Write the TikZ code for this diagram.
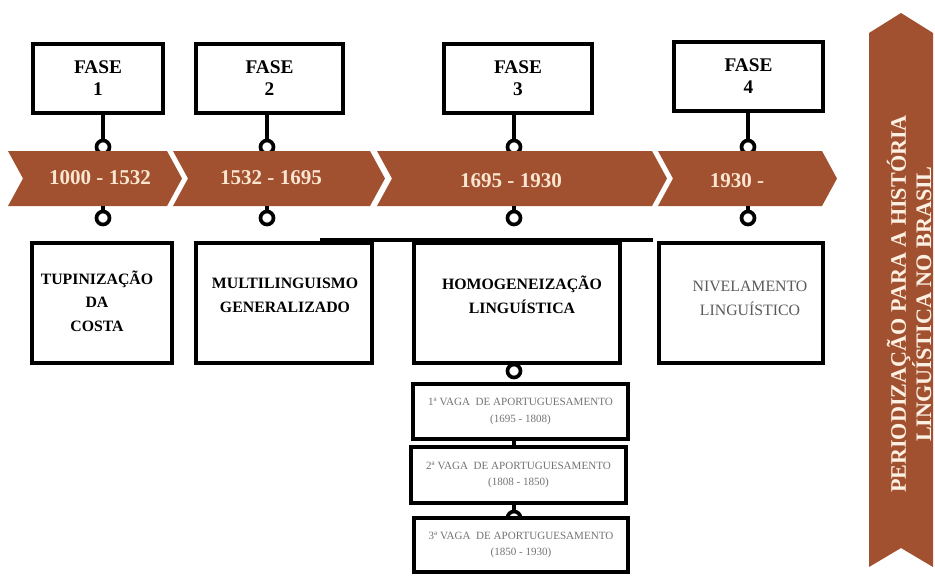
\documentclass[tikz,border=0pt]{standalone}
\usepackage{fontspec}
\setmainfont{Liberation Serif}
\usepackage{tikz}
\definecolor{bandbrown}{RGB}{161, 81, 48}
\definecolor{datecream}{RGB}{250, 230, 208}
\definecolor{txtgray}{RGB}{90, 90, 90}
\usetikzlibrary{positioning, calc}

\begin{document}
\begin{tikzpicture}[x=0.02cm, y=-0.02cm,
    fasebox/.style={draw=black, line width=2.1pt, fill=white, minimum height=1.38cm, inner sep=0pt, align=center, font=\fontsize{11}{12.5}\selectfont\bfseries},
    lowbox/.style={draw=black, line width=2.1pt, fill=white, minimum height=2.4cm, inner sep=0pt},
    subbox/.style={draw=black, line width=2.1pt, fill=white, inner sep=0pt, align=center, text=txtgray!85, font=\fontsize{6.3}{9.6}\selectfont},
    knob/.style={circle, draw=black, line width=2.1pt, fill=white, minimum size=0.26cm, inner sep=0pt},
    stem/.style={line width=2.1pt},
    boxtext/.style={align=center, font=\fontsize{9}{13.5}\selectfont\bfseries},
    datetext/.style={text=datecream, font=\fontsize{12}{14}\selectfont\bfseries}]
    \useasboundingbox (0,0) rectangle (935,578);

    % Phase boxes above the timeline
    \node[fasebox, minimum width=2.6cm] (f1) at (98,78.5) {FASE\\1};
    \node[fasebox, minimum width=2.94cm] (f2) at (269.5,78.5) {FASE\\2};
    \node[fasebox, minimum width=2.96cm] (f3) at (518,78.5) {FASE\\3};
    \node[fasebox, minimum width=2.98cm] (f4) at (748.5,76.5) {FASE\\4};

    \foreach \n/\x in {1/103, 2/267, 3/514, 4/748} {
      \node[knob] (u\n) at (\x,147) {};
      \draw[stem] (f\n.south -| u\n) -- (u\n.north);
    }

    % Timeline band
    \foreach \l/\r in {8/167, 173/370, 377/652, 658/822} {
      \fill[bandbrown] (\l,151) -- (\r,151) -- (\r+15,178.5) -- (\r,206) -- (\l,206) -- (\l+15,178.5) -- cycle;
    }
    \coordinate (bandbot) at (0,206);
    \node[datetext] (d1) at (100,178) {1000 - 1532};
    \node[datetext] (d2) at (271,178) {1532 - 1695};
    \node[datetext] (d3) at (511,181) {1695 - 1930};
    \node[datetext] (d4) at (737,181) {1930 -};

    \foreach \n/\x in {1/103, 2/267, 3/514, 4/748} {
      \node[knob] (l\n) at (\x,218) {};
      \draw[stem] (l\n.north) -- (l\n.north |- bandbot);
    }

    % Rule over the third box
    \coordinate (rulea) at (320,240);
    \coordinate (ruleb) at (653,240);
    \draw[stem] (rulea) -- (ruleb);

    % Lower boxes
    \node[lowbox, minimum width=2.8cm] (b1) at (102,303) {};
    \node[lowbox, minimum width=3.52cm] (b2) at (284,303) {};
    \node[lowbox, minimum width=4.12cm] (b3) at (517,303) {};
    \node[lowbox, minimum width=3.28cm] (b4) at (741,303) {};
    \node[boxtext] (t1) at (97,301) {TUPINIZAÇÃO\\DA\\COSTA};
    \node[boxtext] (t2) at (285,295) {MULTILINGUISMO\\GENERALIZADO};
    \node[boxtext] (t3) at (522,295) {HOMOGENEIZAÇÃO\\LINGUÍSTICA};
    \node[boxtext, font=\fontsize{9}{13.5}\selectfont, text=txtgray] (t4) at (750,298) {NIVELAMENTO\\LINGUÍSTICO};

    % Vagas under phase 3
    \node[knob] (k3) at (514,371) {};
    \node[subbox, minimum width=4.3cm, minimum height=1.1cm] (s1) at (520.5,411.5) {1ª VAGA\ \ DE APORTUGUESAMENTO\\(1695 - 1808)};
    \node[subbox, minimum width=4.3cm, minimum height=1.12cm] (s2) at (518.5,475) {2ª VAGA\ \ DE APORTUGUESAMENTO\\(1808 - 1850)};
    \draw[stem] (s1.south -| k3) -- (s2.north -| k3);
    \node[knob] (k4) at (514,518) {};
    \draw[stem] (s2.south -| k4) -- (k4.north);
    \node[subbox, minimum width=4.28cm, minimum height=1.08cm] (s3) at (521,545) {3ª VAGA\ \ DE APORTUGUESAMENTO\\(1850 - 1930)};

    % Side ribbon
    \fill[bandbrown] (869,33) -- (901,13) -- (933,33) -- (933,567) -- (901,548) -- (869,567) -- cycle;
    \node[rotate=90, align=center, text=datecream!60!white, font=\fontsize{12.6}{11}\selectfont\bfseries] (title) at (909,304) {PERIODIZAÇÃO PARA A HISTÓRIA\\LINGUÍSTICA NO BRASIL};
  \end{tikzpicture}
\end{document}
